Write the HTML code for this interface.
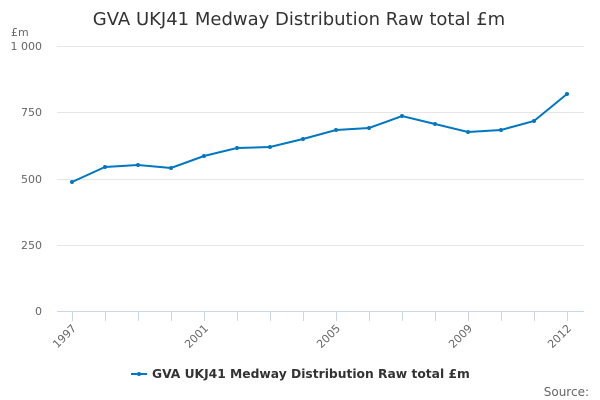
<!DOCTYPE html>
<html><head><meta charset="utf-8"><style>body{margin:0;background:#fff}svg{display:block;font-family:"DejaVu Sans","Liberation Sans",sans-serif}</style></head><body>
<svg width="600" height="400" xmlns="http://www.w3.org/2000/svg">
<text x="299" y="25" text-anchor="middle" font-size="18" fill="#333">GVA UKJ41 Medway Distribution Raw total £m</text>
<text x="11" y="36" font-size="11" fill="#666">£m</text>
<g stroke="#e6e6e6" stroke-width="1">
<line x1="57" x2="584" y1="46.5" y2="46.5"/><line x1="57" x2="584" y1="112.5" y2="112.5"/><line x1="57" x2="584" y1="179.5" y2="179.5"/><line x1="57" x2="584" y1="245.5" y2="245.5"/></g>
<line x1="57" x2="584" y1="311.5" y2="311.5" stroke="#ccd6eb"/>
<g stroke="#ccd6eb"><line x1="72.5" x2="72.5" y1="311" y2="321"/><line x1="105.5" x2="105.5" y1="311" y2="321"/><line x1="138.5" x2="138.5" y1="311" y2="321"/><line x1="171.5" x2="171.5" y1="311" y2="321"/><line x1="204.5" x2="204.5" y1="311" y2="321"/><line x1="237.5" x2="237.5" y1="311" y2="321"/><line x1="270.5" x2="270.5" y1="311" y2="321"/><line x1="303.5" x2="303.5" y1="311" y2="321"/><line x1="336.5" x2="336.5" y1="311" y2="321"/><line x1="369.5" x2="369.5" y1="311" y2="321"/><line x1="402.5" x2="402.5" y1="311" y2="321"/><line x1="435.5" x2="435.5" y1="311" y2="321"/><line x1="468.5" x2="468.5" y1="311" y2="321"/><line x1="501.5" x2="501.5" y1="311" y2="321"/><line x1="534.5" x2="534.5" y1="311" y2="321"/><line x1="567.5" x2="567.5" y1="311" y2="321"/></g>
<g font-size="11" fill="#666" text-anchor="end">
<text x="42" y="50">1 000</text><text x="42" y="116">750</text><text x="42" y="183">500</text><text x="42" y="249">250</text><text x="42" y="315">0</text></g>
<g font-size="11" fill="#666" text-anchor="end">
<text transform="translate(77,329) rotate(-45)">1997</text><text transform="translate(209,329) rotate(-45)">2001</text><text transform="translate(341,329) rotate(-45)">2005</text><text transform="translate(473,329) rotate(-45)">2009</text><text transform="translate(572,329) rotate(-45)">2012</text></g>
<polyline fill="none" stroke="#0077c0" stroke-width="2" points="72,182 105,167 138,165 171,168 204,156 237,148 270,147 303,139 336,130 369,128 402,116 435,124 468,132 501,130 534,121 567,94"/>
<g fill="#0077c0"><circle cx="72" cy="182" r="2"/><circle cx="105" cy="167" r="2"/><circle cx="138" cy="165" r="2"/><circle cx="171" cy="168" r="2"/><circle cx="204" cy="156" r="2"/><circle cx="237" cy="148" r="2"/><circle cx="270" cy="147" r="2"/><circle cx="303" cy="139" r="2"/><circle cx="336" cy="130" r="2"/><circle cx="369" cy="128" r="2"/><circle cx="402" cy="116" r="2"/><circle cx="435" cy="124" r="2"/><circle cx="468" cy="132" r="2"/><circle cx="501" cy="130" r="2"/><circle cx="534" cy="121" r="2"/><circle cx="567" cy="94" r="2"/></g>
<line x1="131" x2="147" y1="374" y2="374" stroke="#0077c0" stroke-width="2"/><circle cx="139" cy="374" r="2" fill="#0077c0"/>
<text x="152" y="378" font-size="12.3" font-weight="bold" fill="#333">GVA UKJ41 Medway Distribution Raw total £m</text>
<text x="589" y="396" font-size="12" fill="#666" text-anchor="end">Source:</text>
</svg>
</body></html>
